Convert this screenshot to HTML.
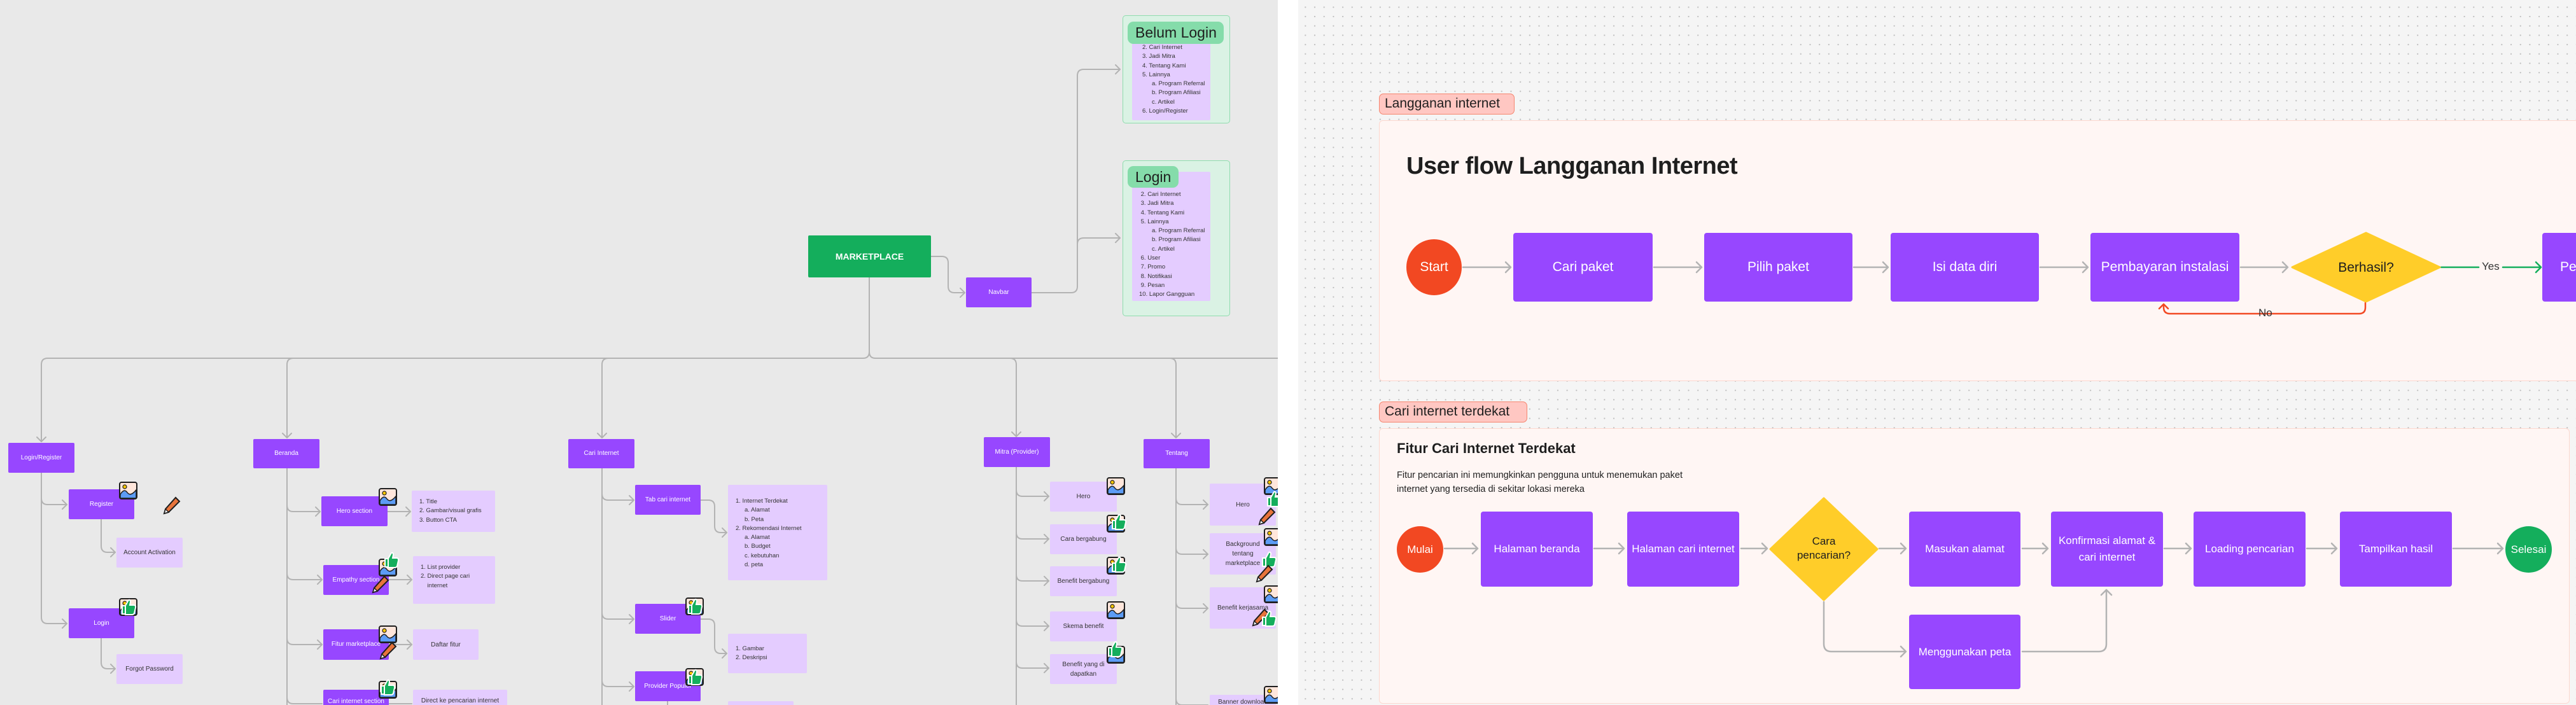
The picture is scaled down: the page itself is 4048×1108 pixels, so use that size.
<!DOCTYPE html>
<html><head><meta charset="utf-8">
<style>
*{margin:0;padding:0;box-sizing:border-box}
body{width:4048px;height:1108px;position:relative;overflow:hidden;background:#fff;font-family:"Liberation Sans",sans-serif}
.abs{position:absolute}
#left{position:absolute;left:0;top:0;width:2008px;height:1108px;background:#e9e9e9;overflow:hidden}
#right{position:absolute;left:2040px;top:0;width:2008px;height:1108px;background-color:#f5f5f5;background-image:radial-gradient(circle,#bdbdbd 0.9px,transparent 1.3px);background-size:14.7px 14.7px;background-position:4px 4px;overflow:hidden}
.n{position:absolute;background:#9747ff;color:#fff;display:flex;align-items:center;justify-content:center;text-align:center;border-radius:2px;font-size:10px;line-height:14px}
.l{position:absolute;background:#e4ccff;color:#333;display:flex;align-items:center;justify-content:center;text-align:center;border-radius:2px;font-size:10px;line-height:15px}
.lst{position:absolute;background:#e4ccff;color:#333;border-radius:2px;font-size:9.5px;line-height:14.3px;padding-left:16px}
.big{position:absolute;background:#9747ff;color:#fff;display:flex;align-items:center;justify-content:center;text-align:center;border-radius:4px;font-size:21px;line-height:30px}
.mid{position:absolute;background:#9747ff;color:#fff;display:flex;align-items:center;justify-content:center;text-align:center;border-radius:4px;font-size:17px;line-height:26px}
svg{position:absolute;left:0;top:0}
</style></head><body>
<div id="left">
<svg width="2008" height="1108" viewBox="0 0 2008 1108" fill="none" stroke="#b3b3b3" stroke-width="2" stroke-linecap="round" stroke-linejoin="round">
<path d="M1463 403H1480Q1490 403 1490 413V450Q1490 460 1500 460H1516"/><path d="M1509 453l7 7-7 7"/>
<path d="M1621 460H1683Q1693 460 1693 450V119Q1693 109 1703 109H1760"/><path d="M1753 102l7 7-7 7"/>
<path d="M1693 390V384Q1693 374 1703 374H1760"/><path d="M1753 367l7 7-7 7"/>
<path d="M1366 436V553Q1366 563 1356 563H75Q65 563 65 573V694"/><path d="M58 687l7 7 7-7"/>
<path d="M1366 553Q1366 563 1376 563H2008"/>
<path d="M461 563Q451 563 451 573V688"/><path d="M444 681l7 7 7-7"/>
<path d="M956 563Q946 563 946 573V688"/><path d="M939 681l7 7 7-7"/>
<path d="M1587 563Q1597 563 1597 573V686"/><path d="M1590 679l7 7 7-7"/>
<path d="M1838 563Q1848 563 1848 573V688"/><path d="M1841 681l7 7 7-7"/>
<path d="M65 743V970Q65 980 75 980H105"/><path d="M98 973l7 7-7 7"/>
<path d="M65 783Q65 793 75 793H105"/><path d="M98 786l7 7-7 7"/>
<path d="M159 816V858Q159 868 169 868H181"/><path d="M174 861l7 7-7 7"/>
<path d="M159 1003V1041Q159 1051 169 1051H181"/><path d="M174 1044l7 7-7 7"/>
<path d="M451 736V1108"/>
<path d="M451 794Q451 804 461 804H503"/><path d="M496 797l7 7-7 7"/>
<path d="M451 901Q451 911 461 911H506"/><path d="M499 904l7 7-7 7"/>
<path d="M451 1003Q451 1013 461 1013H506"/><path d="M499 1006l7 7-7 7"/>
<path d="M451 1096Q451 1106 461 1106H506"/>
<path d="M609 804H645"/><path d="M638 797l7 7-7 7"/>
<path d="M611 911H647"/><path d="M640 904l7 7-7 7"/>
<path d="M611 1013H647"/><path d="M640 1006l7 7-7 7"/>
<path d="M611 1106H647"/>
<path d="M946 736V1108"/>
<path d="M946 776Q946 786 956 786H996"/><path d="M989 779l7 7-7 7"/>
<path d="M946 963Q946 973 956 973H996"/><path d="M989 966l7 7-7 7"/>
<path d="M946 1069Q946 1079 956 1079H996"/><path d="M989 1072l7 7-7 7"/>
<path d="M1101 786H1113Q1123 786 1123 796V827Q1123 837 1133 837H1142"/><path d="M1135 830l7 7-7 7"/>
<path d="M1101 973H1113Q1123 973 1123 983V1017Q1123 1027 1133 1027H1142"/><path d="M1135 1020l7 7-7 7"/>
<path d="M1049 1102V1108"/>
<path d="M1597 734V1108"/>
<path d="M1597 770Q1597 780 1607 780H1648"/><path d="M1641 773l7 7-7 7"/>
<path d="M1597 837Q1597 847 1607 847H1648"/><path d="M1641 840l7 7-7 7"/>
<path d="M1597 903Q1597 913 1607 913H1648"/><path d="M1641 906l7 7-7 7"/>
<path d="M1597 974Q1597 984 1607 984H1648"/><path d="M1641 977l7 7-7 7"/>
<path d="M1597 1040Q1597 1050 1607 1050H1648"/><path d="M1641 1043l7 7-7 7"/>
<path d="M1848 736V1108"/>
<path d="M1848 783Q1848 793 1858 793H1898"/><path d="M1891 786l7 7-7 7"/>
<path d="M1848 861Q1848 871 1858 871H1898"/><path d="M1891 864l7 7-7 7"/>
<path d="M1848 946Q1848 956 1858 956H1898"/><path d="M1891 949l7 7-7 7"/>
<path d="M1848 1098Q1848 1108 1858 1108H1898"/>
</svg>

<div class="abs" style="left:1764px;top:24px;width:169px;height:170px;background:#daf2e4;border:1.5px solid #8fdcae;border-radius:5px"></div>
<div class="lst" style="left:1779px;top:40px;width:123px;height:149px;padding-top:28px">2. Cari Internet<br>3. Jadi Mitra<br>4. Tentang Kami<br>5. Lainnya<br><span style="padding-left:15px">a. Program Referral</span><br><span style="padding-left:15px">b. Program Afiliasi</span><br><span style="padding-left:15px">c. Artikel</span><br>6. Login/Register</div>
<div class="abs" style="left:1772px;top:34px;width:151px;height:35px;background:#85dcaa;border-radius:9px;font-size:23px;color:#1e1e1e;line-height:35px;padding-left:12px">Belum Login</div>

<div class="abs" style="left:1764px;top:252px;width:169px;height:245px;background:#daf2e4;border:1.5px solid #8fdcae;border-radius:5px"></div>
<div class="lst" style="left:1779px;top:270px;width:123px;height:203px;padding-top:29px;padding-left:11px">&nbsp;2. Cari Internet<br>&nbsp;3. Jadi Mitra<br>&nbsp;4. Tentang Kami<br>&nbsp;5. Lainnya<br><span style="padding-left:20px">a. Program Referral</span><br><span style="padding-left:20px">b. Program Afiliasi</span><br><span style="padding-left:20px">c. Artikel</span><br>&nbsp;6. User<br>&nbsp;7. Promo<br>&nbsp;8. Notifikasi<br>&nbsp;9. Pesan<br>10. Lapor Gangguan</div>
<div class="abs" style="left:1772px;top:261px;width:80px;height:34px;background:#85dcaa;border-radius:9px;font-size:23px;color:#1e1e1e;line-height:34px;padding-left:12px">Login</div>

<div class="abs" style="left:1270px;top:370px;width:193px;height:66px;background:#14ae5c;color:#fff;font-size:14px;font-weight:bold;display:flex;align-items:center;justify-content:center;border-radius:2px">MARKETPLACE</div>
<div class="n" style="left:1518px;top:436px;width:103px;height:47px">Navbar</div>

<div class="n" style="left:13px;top:696px;width:104px;height:47px">Login/Register</div>
<div class="n" style="left:398px;top:690px;width:104px;height:46px">Beranda</div>
<div class="n" style="left:893px;top:690px;width:104px;height:46px">Cari Internet</div>
<div class="n" style="left:1546px;top:687px;width:104px;height:47px">Mitra (Provider)</div>
<div class="n" style="left:1797px;top:690px;width:104px;height:46px">Tentang</div>

<div class="n" style="left:108px;top:769px;width:103px;height:47px">Register</div>
<div class="l" style="left:183px;top:845px;width:104px;height:47px">Account Activation</div>
<div class="n" style="left:108px;top:956px;width:103px;height:47px">Login</div>
<div class="l" style="left:183px;top:1028px;width:104px;height:47px">Forgot Password</div>

<div class="n" style="left:505px;top:780px;width:104px;height:47px">Hero section</div>
<div class="lst" style="left:647px;top:771px;width:131px;height:65px;padding-top:11px;padding-left:12px">1. Title<br>2. Gambar/visual grafis<br>3. Button CTA</div>
<div class="n" style="left:508px;top:888px;width:103px;height:47px">Empathy section</div>
<div class="lst" style="left:649px;top:874px;width:129px;height:75px;padding-top:11px;padding-left:12px">1. List provider<br>2. Direct page cari<br>&nbsp;&nbsp;&nbsp;&nbsp;internet</div>
<div class="n" style="left:508px;top:989px;width:103px;height:48px">Fitur marketplace</div>
<div class="l" style="left:649px;top:989px;width:103px;height:48px">Daftar fitur</div>
<div class="n" style="left:508px;top:1084px;width:103px;height:47px;align-items:flex-start;padding-top:12px">Cari internet section</div>
<div class="l" style="left:649px;top:1084px;width:148px;height:40px;align-items:flex-start;padding-top:10px">Direct ke pencarian internet</div>

<div class="n" style="left:998px;top:762px;width:103px;height:47px">Tab cari internet</div>
<div class="lst" style="left:1144px;top:762px;width:156px;height:150px;padding-top:19px;padding-left:12px">1. Internet Terdekat<br><span style="padding-left:14px">a. Alamat</span><br><span style="padding-left:14px">b. Peta</span><br>2. Rekomendasi Internet<br><span style="padding-left:14px">a. Alamat</span><br><span style="padding-left:14px">b. Budget</span><br><span style="padding-left:14px">c. kebutuhan</span><br><span style="padding-left:14px">d. peta</span></div>
<div class="n" style="left:998px;top:949px;width:103px;height:47px">Slider</div>
<div class="lst" style="left:1144px;top:996px;width:124px;height:62px;padding-top:17px;padding-left:12px">1. Gambar<br>2. Deskripsi</div>
<div class="n" style="left:998px;top:1055px;width:103px;height:47px">Provider Populer</div>
<div class="l" style="left:1144px;top:1102px;width:103px;height:20px"></div>

<div class="l" style="left:1650px;top:757px;width:105px;height:47px">Hero</div>
<div class="l" style="left:1650px;top:824px;width:105px;height:47px">Cara bergabung</div>
<div class="l" style="left:1650px;top:890px;width:105px;height:47px">Benefit bergabung</div>
<div class="l" style="left:1650px;top:961px;width:105px;height:47px">Skema benefit</div>
<div class="l" style="left:1650px;top:1028px;width:105px;height:47px">Benefit yang di<br>dapatkan</div>

<div class="l" style="left:1901px;top:760px;width:104px;height:66px">Hero</div>
<div class="l" style="left:1901px;top:838px;width:104px;height:65px">Background<br>tentang<br>marketplace</div>
<div class="l" style="left:1901px;top:923px;width:104px;height:65px">Benefit kerjasama</div>
<div class="l" style="left:1901px;top:1092px;width:104px;height:30px;align-items:flex-start;padding-top:4px">Banner download</div>

<svg width="2008" height="1108" viewBox="0 0 2008 1108">
<defs>
<g id="im"><rect x="1" y="1" width="27" height="26" rx="3" fill="#ffe6db" stroke="#1e1e1e" stroke-width="2"/><circle cx="9" cy="8" r="3" fill="#ffc700" stroke="#1e1e1e" stroke-width="1.2"/><path d="M2 20Q8 10 13 17T27 13V26H2Z" fill="#5c9cf5" stroke="#1e1e1e" stroke-width="1.5"/></g>
<g id="th"><path d="M4 12H9V25H4Z M9 12L14 3Q17 2 17 6L16 11H23Q26 12 25 15L23 24Q22 26 19 26H9Z" fill="#14ae5c" stroke="#fff" stroke-width="2"/></g>
<g id="pe"><path d="M21 2L27 8L10 25L3 27L5 20Z" fill="#e8743b" stroke="#1e1e1e" stroke-width="2"/><path d="M3 27L5 20L10 25Z" fill="#fff" stroke="#1e1e1e" stroke-width="1.5"/></g>
</defs>
<use href="#im" x="187" y="757"/><use href="#pe" x="255" y="780"/>
<use href="#im" x="187" y="940"/><use href="#th" x="188" y="940"/>
<use href="#im" x="595" y="767"/>
<use href="#im" x="595" y="878"/><use href="#th" x="601" y="866"/><use href="#pe" x="583" y="904"/>
<use href="#im" x="595" y="983"/><use href="#pe" x="595" y="1008"/>
<use href="#im" x="595" y="1070"/><use href="#th" x="595" y="1066"/>
<use href="#im" x="1077" y="939"/><use href="#th" x="1078" y="939"/>
<use href="#im" x="1077" y="1050"/><use href="#th" x="1078" y="1050"/>
<use href="#im" x="1739" y="750"/>
<use href="#im" x="1739" y="809"/><use href="#th" x="1744" y="806"/>
<use href="#im" x="1739" y="875"/><use href="#th" x="1744" y="873"/>
<use href="#im" x="1739" y="945"/>
<use href="#im" x="1739" y="1015"/><use href="#th" x="1738" y="1006"/>
<use href="#im" x="1986" y="750"/><use href="#th" x="1988" y="770"/><use href="#pe" x="1976" y="797"/>
<use href="#im" x="1986" y="830"/><use href="#th" x="1980" y="865"/><use href="#pe" x="1972" y="887"/>
<use href="#im" x="1986" y="920"/><use href="#pe" x="1966" y="956"/><use href="#th" x="1980" y="958"/>
<use href="#im" x="1986" y="1078"/>
</svg>
</div>

<div id="right">
<div class="abs" style="left:127px;top:147px;width:213px;height:33px;background:#ffc7c2;border:1.5px solid #f5866f;border-radius:7px;font-size:21px;color:#1e1e1e;line-height:30px;padding-left:8px">Langganan internet</div>
<div class="abs" style="left:127px;top:189px;width:2000px;height:410px;background:#fff6f4;border:1.5px solid #fdd8cf;border-radius:6px"></div>
<div class="abs" style="left:170px;top:238px;font-size:38px;font-weight:bold;color:#1e1e1e;line-height:46px;letter-spacing:-0.5px">User flow Langganan Internet</div>

<div class="abs" style="left:127px;top:631px;width:233px;height:33px;background:#ffc7c2;border:1.5px solid #f5866f;border-radius:7px;font-size:21px;color:#1e1e1e;line-height:30px;padding-left:8px">Cari internet terdekat</div>
<div class="abs" style="left:127px;top:673px;width:1871px;height:433px;background:#fff6f4;border:1.5px solid #fdd8cf;border-radius:6px"></div>
<div class="abs" style="left:155px;top:691px;font-size:22px;font-weight:bold;color:#1e1e1e;line-height:28px">Fitur Cari Internet Terdekat</div>
<div class="abs" style="left:155px;top:736px;font-size:14.5px;color:#1e1e1e;line-height:22px">Fitur pencarian ini memungkinkan pengguna untuk menemukan paket<br>internet yang tersedia di sekitar lokasi mereka</div>

<svg width="2008" height="1108" viewBox="2040 0 2008 1108" fill="none" stroke-width="2.5" stroke-linecap="round" stroke-linejoin="round">
<g stroke="#b3b3b3">
<path d="M2299 420H2373M2366 412l8 8-8 8"/>
<path d="M2599 420H2673M2666 412l8 8-8 8"/>
<path d="M2913 420H2966M2959 412l8 8-8 8"/>
<path d="M3206 420H3280M3273 412l8 8-8 8"/>
<path d="M3521 420H3594M3587 412l8 8-8 8"/>
<path d="M2270 862H2321M2314 854l8 8-8 8"/>
<path d="M2505 862H2551M2544 854l8 8-8 8"/>
<path d="M2736 862H2776M2769 854l8 8-8 8"/>
<path d="M2953 862H2994M2987 854l8 8-8 8"/>
<path d="M3178 862H3217M3210 854l8 8-8 8"/>
<path d="M3401 862H3442M3435 854l8 8-8 8"/>
<path d="M3625 862H3671M3664 854l8 8-8 8"/>
<path d="M3855 862H3932M3925 854l8 8-8 8"/>
<path d="M2866 946V1012Q2866 1024 2878 1024H2994M2987 1016l8 8-8 8"/>
<path d="M3178 1024H3298Q3310 1024 3310 1012V927M3302 935l8-8 8 8"/>
</g>
<path d="M3836 420H3895M3933 420H3993M3985 412l8 8-8 8" stroke="#14ae5c"/>
<path d="M3717 476V483Q3717 493 3707 493H3546M3570 493H3410Q3400 493 3400 483V478M3393 485l7-7 7 7" stroke="#f24822"/>
</svg>

<div class="abs" style="left:170px;top:376px;width:87px;height:88px;border-radius:50%;background:#f24822;color:#fff;font-size:21px;display:flex;align-items:center;justify-content:center">Start</div>
<div class="big" style="left:338px;top:366px;width:219px;height:108px">Cari paket</div>
<div class="big" style="left:638px;top:366px;width:233px;height:108px">Pilih paket</div>
<div class="big" style="left:931px;top:366px;width:233px;height:108px">Isi data diri</div>
<div class="big" style="left:1245px;top:366px;width:234px;height:108px">Pembayaran instalasi</div>
<svg width="240" height="112" style="left:1558px;top:364px"><path d="M120 2L236 56L120 110L4 56Z" fill="#ffcd29" stroke="#ffcd29" stroke-width="3" stroke-linejoin="round"/><text x="120" y="63" text-anchor="middle" font-family="Liberation Sans,sans-serif" font-size="21" fill="#1e1e1e">Berhasil?</text></svg>
<div class="abs" style="left:1860px;top:409px;font-size:17px;color:#333">Yes</div>
<div class="abs" style="left:1509px;top:482px;font-size:17px;color:#333">No</div>
<div class="big" style="left:1955px;top:366px;width:240px;height:108px;justify-content:flex-start;padding-left:28px">Pendaftaran</div>

<div class="abs" style="left:155px;top:827px;width:73px;height:73px;border-radius:50%;background:#f24822;color:#fff;font-size:17px;display:flex;align-items:center;justify-content:center">Mulai</div>
<div class="mid" style="left:287px;top:804px;width:176px;height:118px">Halaman beranda</div>
<div class="mid" style="left:517px;top:804px;width:176px;height:118px">Halaman cari internet</div>
<svg width="174" height="166" style="left:739px;top:780px"><path d="M87 3L171 83L87 163L3 83Z" fill="#ffcd29" stroke="#ffcd29" stroke-width="3" stroke-linejoin="round"/><text x="87" y="76" text-anchor="middle" font-family="Liberation Sans,sans-serif" font-size="17" fill="#1e1e1e">Cara</text><text x="87" y="98" text-anchor="middle" font-family="Liberation Sans,sans-serif" font-size="17" fill="#1e1e1e">pencarian?</text></svg>
<div class="mid" style="left:960px;top:804px;width:175px;height:118px">Masukan alamat</div>
<div class="mid" style="left:1183px;top:804px;width:176px;height:118px">Konfirmasi alamat &amp;<br>cari internet</div>
<div class="mid" style="left:1407px;top:804px;width:176px;height:118px">Loading pencarian</div>
<div class="mid" style="left:1637px;top:804px;width:176px;height:118px">Tampilkan hasil</div>
<div class="abs" style="left:1897px;top:827px;width:73px;height:73px;border-radius:50%;background:#14ae5c;color:#fff;font-size:17px;display:flex;align-items:center;justify-content:center">Selesai</div>
<div class="mid" style="left:960px;top:966px;width:175px;height:117px">Menggunakan peta</div>
</div>
</body></html>
